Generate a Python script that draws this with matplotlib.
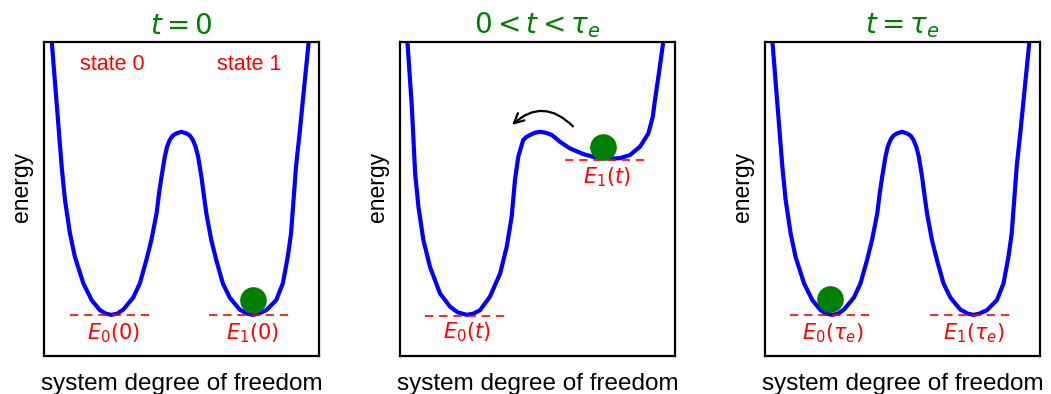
import numpy as np
import matplotlib
matplotlib.use("Agg")
import matplotlib.pyplot as plt

plt.rcParams['font.family'] = ['Liberation Sans', 'DejaVu Sans']

# symmetric double well (used at t = 0 and t = tau_e)
well_x = [2.7, 3.9, 5.1, 6.3, 7.5, 9.3, 11.1, 14.2, 17.2, 20.2, 22.3, 24.4, 26.5, 28.7,
          32.3, 34.7, 37.1, 38.9, 40.8, 41.7, 42.6, 43.8, 44.6, 45.6, 46.7, 48.0, 49.8,
          51.6, 52.9, 54.0, 55.0, 55.9, 57.1, 57.9, 58.9, 60.7, 62.5, 64.9, 67.4, 71.0,
          73.7, 75.8, 77.9, 80.7, 84.3, 86.7, 88.5, 89.7, 90.6, 91.5, 92.8, 94.6, 96.1]
well_y = [100, 86.8, 73.6, 60.3, 49.7, 39.1, 31.6, 23.1, 17.8, 14.6, 13.5, 13.1, 13.5, 14.8,
          18.6, 23.1, 30.6, 36.9, 45.4, 51.8, 57.1, 63.5, 66.6, 68.8, 70.2, 70.9, 71.4,
          70.9, 70.2, 68.8, 66.6, 63.5, 57.1, 51.8, 45.4, 36.9, 30.6, 23.1, 18.6, 14.8,
          13.5, 13.1, 13.5, 14.6, 17.8, 23.1, 31.6, 39.1, 49.7, 60.3, 70.9, 86.8, 100]

# tilted well during erasure (0 < t < tau_e)
tilt_x = [2.7, 4.3, 5.5, 6.7, 8.5, 10.9, 14.5, 18.2, 21.0, 24.3, 26.7, 29.1, 32.7, 36.4,
          38.8, 40.6, 41.8, 43.0, 44.8, 46.0, 47.3, 49.0, 50.9, 53.0, 55.2, 58.2, 61.8,
          66.7, 70.0, 73.9, 77.0, 80.0, 83.6, 87.3, 90.3, 91.9, 92.7, 94.2, 95.7]
tilt_y = [100, 79.4, 58.2, 47.5, 36.9, 28.4, 20.0, 15.7, 13.9, 13.1, 13.5, 14.6, 18.9, 26.3,
          34.8, 44.4, 56.1, 63.5, 68.8, 69.8, 70.4, 71.1, 71.4, 71.1, 70.4, 68.2, 66.1,
          64.3, 63.5, 63.0, 62.9, 63.0, 64.0, 66.7, 70.9, 76.2, 81.5, 90.5, 100]

titles = [r'$t=0$', r'$0<t<\tau_e$', r'$t=\tau_e$']
curves = [(well_x, well_y), (tilt_x, tilt_y), (well_x, well_y)]

# energy levels: (x_start, x_end, level, label, label_x, label_y)
levels = [
    [(9.3, 39.5, 13.1, r'$E_0(0)$', 25.0, 7.2), (59.9, 90.3, 13.1, r'$E_1(0)$', 75.8, 7.2)],
    [(9.1, 40.0, 12.8, r'$E_0(t)$', 24.2, 7.5), (60.0, 90.3, 62.4, r'$E_1(t)$', 75.2, 56.9)],
    [(9.1, 39.4, 13.1, r'$E_0(\tau_e)$', 24.6, 7.2), (60.0, 90.3, 13.1, r'$E_1(\tau_e)$', 75.8, 7.2)],
]
ball = [(75.8, 17.8), (73.7, 66.7), (23.6, 18.1)]

fig = plt.figure(figsize=(10.51, 3.94), dpi=100)
lefts = [0.0422, 0.3806, 0.7279]

for i in range(3):
    ax = fig.add_axes([lefts[i], 0.0964, 0.2617, 0.797])
    ax.plot(curves[i][0], curves[i][1], color='blue', lw=3, solid_joinstyle='round')
    for x0, x1, lev, lab, lx, ly in levels[i]:
        ax.plot([x0, x1], [lev, lev], color='red', lw=1.2, ls=(0, (5, 3.5)))
        ax.text(lx, ly, lab, color='red', fontsize=15, ha='center', va='center')
    ax.scatter([ball[i][0]], [ball[i][1]], s=330, color='green', zorder=5)
    ax.set_xlim(0, 100)
    ax.set_ylim(0, 100)
    ax.set_xticks([])
    ax.set_yticks([])
    for sp in ax.spines.values():
        sp.set_linewidth(1.6)
    ax.set_title(titles[i], color='green', fontsize=20, pad=6)
    ax.set_xlabel('system degree of freedom', fontsize=17.5, labelpad=12)
    ax.set_ylabel('energy', fontsize=16.5)
    ax.yaxis.set_label_coords(-0.04, 0.54)
    if i == 0:
        ax.text(24.8, 92.7, 'state 0', color='red', fontsize=15.5, ha='center', va='center')
        ax.text(74.4, 92.7, 'state 1', color='red', fontsize=15.5, ha='center', va='center')
    if i == 1:
        ax.annotate('', xy=(40.0, 73.0), xytext=(63.6, 72.5),
                    arrowprops=dict(arrowstyle='->,head_length=0.7,head_width=0.35',
                                    color='black', lw=1.6,
                                    connectionstyle='arc3,rad=0.5'))

fig.savefig('out.png', dpi=100)
